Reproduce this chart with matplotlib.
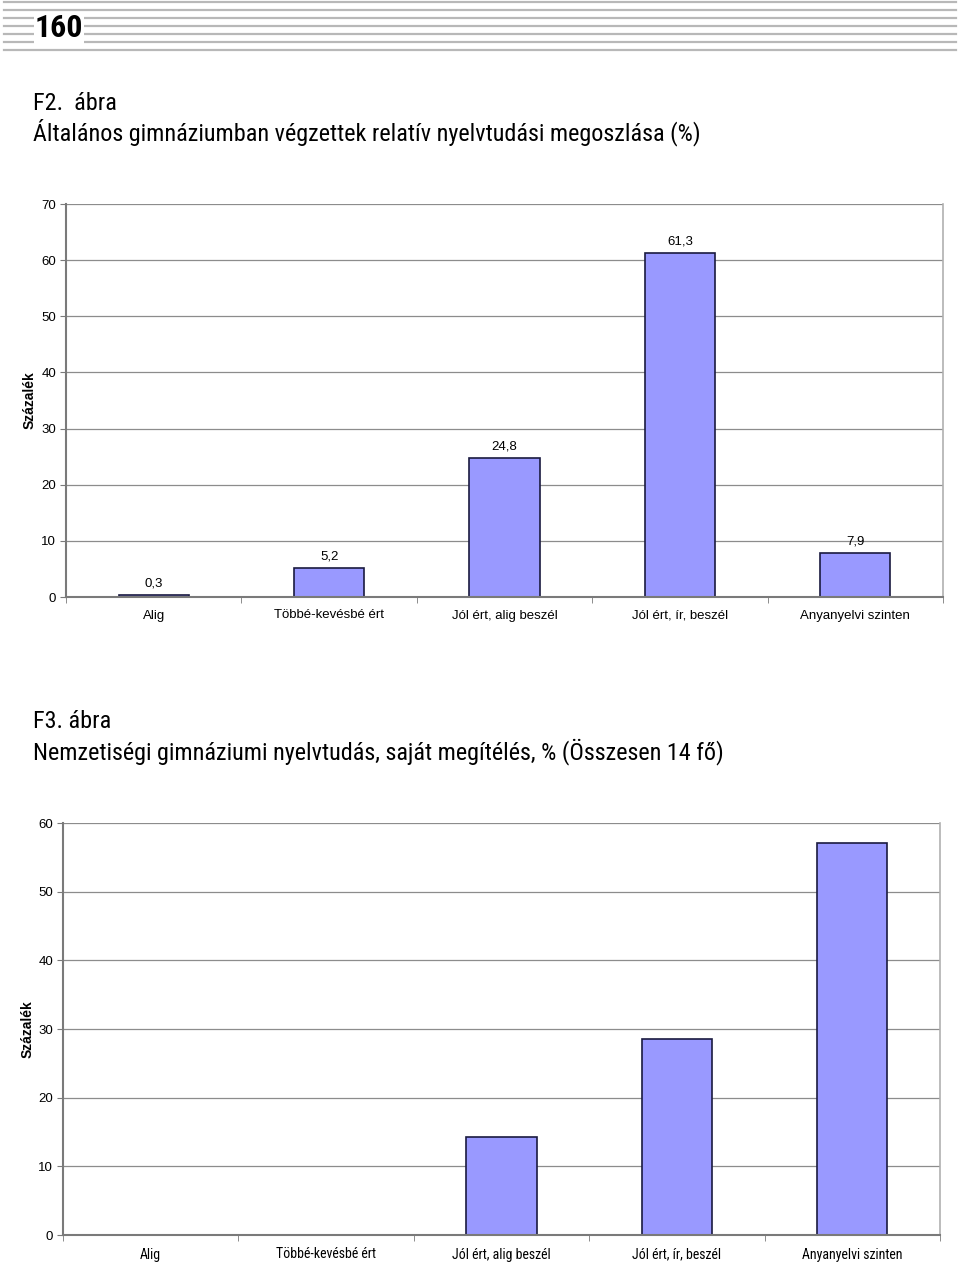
import matplotlib
matplotlib.use('Agg')
import matplotlib.pyplot as plt
from matplotlib.lines import Line2D

categories = ['Alig', 'Többé-kevésbé ért', 'Jól ért, alig beszél', 'Jól ért, ír, beszél', 'Anyanyelvi szinten']
f2_values = [0.3, 5.2, 24.8, 61.3, 7.9]
f2_labels = ['0,3', '5,2', '24,8', '61,3', '7,9']
f3_values = [0, 0, 14.3, 28.6, 57.1]

narrow = ['Roboto Condensed', 'Archivo Narrow', 'Sofia Sans Semi Condensed', 'DejaVu Sans']
plain = ['Liberation Sans', 'DejaVu Sans']
bar_color = '#9999FF'
edge_color = '#1a1a40'

fig = plt.figure(figsize=(9.6, 12.63), dpi=100)

# page header stripes
for y in [2, 10, 18, 26, 34, 42, 50]:
    fig.add_artist(Line2D([0.004, 0.996], [1 - y / 1263, 1 - y / 1263],
                          color='#b8b8b8', lw=1.6, transform=fig.transFigure))
fig.text(0.036, 1 - 28 / 1263, '160', family=narrow, fontsize=23, fontweight='bold',
         va='center', ha='left', color='black',
         bbox=dict(facecolor='white', edgecolor='none', pad=0.5))

fig.text(0.034, 1 - 103 / 1263, 'F2.  ábra', family=narrow, fontsize=17.4, va='center')
fig.text(0.034, 1 - 132 / 1263, 'Általános gimnáziumban végzettek relatív nyelvtudási megoszlása (%)',
         family=narrow, fontsize=17.4, va='center')
fig.text(0.034, 1 - 722 / 1263, 'F3. ábra', family=narrow, fontsize=17.4, va='center')
fig.text(0.034, 1 - 752 / 1263, 'Nemzetiségi gimnáziumi nyelvtudás, saját megítélés, % (Összesen 14 fő)',
         family=narrow, fontsize=17.4, va='center')


def style_axes(ax, ymax, xtick_family, xtick_size, label_x):
    ax.set_xlim(-0.5, 4.5)
    ax.set_ylim(0, ymax)
    ax.set_yticks(range(0, ymax + 1, 10))
    ax.yaxis.grid(True, color='#8c8c8c', lw=0.9)
    ax.set_axisbelow(True)
    ax.spines['top'].set_visible(False)
    ax.spines['left'].set_color('#7a7a7a')
    ax.spines['left'].set_linewidth(1.5)
    ax.spines['bottom'].set_color('#7a7a7a')
    ax.spines['bottom'].set_linewidth(1.5)
    ax.spines['right'].set_color('#b0b0b0')
    ax.spines['right'].set_linewidth(1.2)
    ax.set_xticks(range(5))
    ax.set_xticklabels(categories, family=xtick_family, fontsize=xtick_size)
    ax.set_xticks([i + 0.5 for i in range(-1, 5)], minor=True)
    ax.tick_params(axis='x', which='major', length=0, pad=9)
    ax.tick_params(axis='x', which='minor', length=4, color='#7a7a7a')
    ax.tick_params(axis='y', length=4, color='#7a7a7a', pad=3)
    for t in ax.get_yticklabels():
        t.set_family(plain)
        t.set_fontsize(9.5)
    ax.set_ylabel('Százalék', family=plain, fontsize=10, fontweight='bold')
    ax.yaxis.set_label_coords(label_x / 877, 0.5)


ax1 = fig.add_axes([66 / 960, 1 - 597 / 1263, 877 / 960, 393 / 1263])
style_axes(ax1, 70, plain, 9.5, -29)
bars = ax1.bar(range(5), f2_values, width=0.4, color=bar_color, edgecolor=edge_color, lw=1.2)
for b, lab in zip(bars, f2_labels):
    ax1.annotate(lab, (b.get_x() + b.get_width() / 2, b.get_height()), xytext=(0, 4),
                 textcoords='offset points', ha='center', va='bottom',
                 family=plain, fontsize=9.5)

ax2 = fig.add_axes([63 / 960, 1 - 1235 / 1263, 877 / 960, 412 / 1263])
style_axes(ax2, 60, narrow, 10, -28)
ax2.bar(range(5), f3_values, width=0.4, color=bar_color, edgecolor=edge_color, lw=1.2)

fig.savefig('out.png', dpi=100)
